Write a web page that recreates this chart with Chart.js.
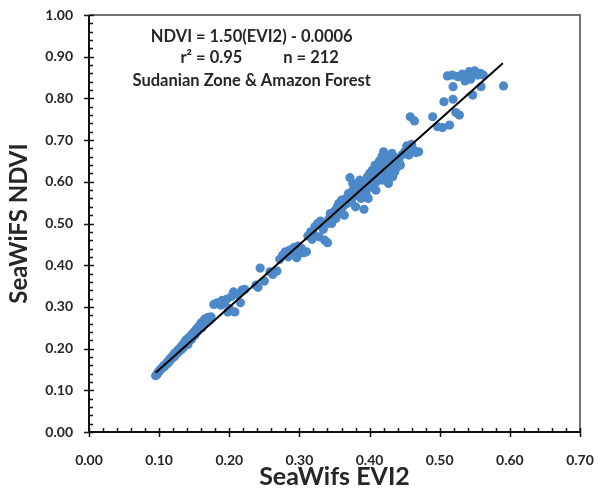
<!DOCTYPE html>
<html>
<head>
<meta charset="utf-8">
<script src="https://cdn.jsdelivr.net/npm/chart.js@4.4.1/dist/chart.umd.min.js"></script>
<style>
  html, body { margin: 0; padding: 0; background: #fff; }
  #wrap { width: 598px; height: 498px; position: relative; }
</style>
</head>
<body>
<div id="wrap"><canvas id="scatterChart"></canvas></div>
<script>
// SeaWiFS EVI2 (x) vs NDVI (y)
const evi2 = [
  0.095, 0.097, 0.098, 0.100, 0.101, 0.102, 0.104, 0.105, 0.106, 0.107,
  0.108, 0.110, 0.111, 0.112, 0.113, 0.114, 0.115, 0.116, 0.117, 0.118,
  0.119, 0.120, 0.121, 0.122, 0.123, 0.124, 0.125, 0.126, 0.127, 0.128,
  0.129, 0.130, 0.131, 0.132, 0.133, 0.134, 0.135, 0.136, 0.137, 0.138,
  0.139, 0.140, 0.141, 0.142, 0.143, 0.145, 0.146, 0.147, 0.148, 0.150,
  0.151, 0.152, 0.154, 0.155, 0.156, 0.158, 0.160, 0.161, 0.163, 0.165,
  0.167, 0.168, 0.170, 0.172, 0.174,
  0.178, 0.183, 0.188, 0.190, 0.193, 0.196, 0.198, 0.200, 0.203, 0.206,
  0.208, 0.212, 0.216, 0.218, 0.222,
  0.238, 0.241, 0.244, 0.250, 0.258, 0.262,
  0.268, 0.272, 0.276, 0.280, 0.284, 0.286, 0.290, 0.292, 0.296, 0.300,
  0.303, 0.306, 0.310, 0.312, 0.316, 0.318, 0.322, 0.326, 0.328, 0.330,
  0.334, 0.336, 0.338, 0.340, 0.342, 0.344,
  0.348, 0.350, 0.352, 0.354, 0.356, 0.358, 0.360, 0.362, 0.364, 0.366,
  0.368, 0.370, 0.372, 0.374, 0.376, 0.378, 0.380, 0.382, 0.384, 0.386,
  0.388, 0.390, 0.392, 0.393, 0.395, 0.397, 0.399, 0.400, 0.402, 0.404,
  0.405, 0.407, 0.408, 0.410, 0.411, 0.413, 0.414, 0.416, 0.417, 0.418,
  0.420, 0.421, 0.422, 0.424, 0.425, 0.426, 0.428, 0.430, 0.431, 0.433,
  0.434, 0.436, 0.438, 0.440, 0.442, 0.446, 0.450, 0.453, 0.456, 0.460,
  0.463, 0.466, 0.470,
  0.458, 0.464, 0.490, 0.497, 0.504, 0.514, 0.506, 0.519, 0.523, 0.528,
  0.519, 0.547, 0.559, 0.591, 0.511, 0.518, 0.526, 0.532, 0.538, 0.542,
  0.546, 0.550, 0.554, 0.558, 0.562, 0.536, 0.544,
  0.398, 0.409, 0.419, 0.427, 0.432, 0.444, 0.298, 0.320, 0.346, 0.376
];
const ndvi = [
  0.135, 0.138, 0.142, 0.145, 0.148, 0.150, 0.152, 0.156, 0.155, 0.160,
  0.158, 0.162, 0.166, 0.164, 0.170, 0.168, 0.172, 0.176, 0.174, 0.180,
  0.178, 0.183, 0.186, 0.181, 0.190, 0.187, 0.192, 0.195, 0.190, 0.198,
  0.196, 0.200, 0.204, 0.198, 0.207, 0.210, 0.203, 0.214, 0.212, 0.220,
  0.216, 0.222, 0.210, 0.226, 0.224, 0.230, 0.222, 0.233, 0.236, 0.240,
  0.232, 0.244, 0.248, 0.242, 0.252, 0.256, 0.262, 0.250, 0.266, 0.270,
  0.272, 0.262, 0.275, 0.268, 0.276,
  0.306, 0.310, 0.304, 0.316, 0.312, 0.318, 0.288, 0.296, 0.325, 0.336,
  0.288, 0.330, 0.310, 0.340, 0.342,
  0.352, 0.347, 0.393, 0.362, 0.384, 0.378,
  0.386, 0.414, 0.424, 0.432, 0.420, 0.436, 0.428, 0.442, 0.418, 0.428,
  0.440, 0.430, 0.432, 0.470, 0.480, 0.462, 0.492, 0.500, 0.468, 0.506,
  0.486, 0.460, 0.498, 0.454, 0.510, 0.524,
  0.520, 0.530, 0.512, 0.540, 0.548, 0.528, 0.556, 0.540, 0.520, 0.560,
  0.548, 0.572, 0.610, 0.554, 0.580, 0.566, 0.540, 0.592, 0.576, 0.604,
  0.560, 0.584, 0.534, 0.598, 0.572, 0.612, 0.590, 0.620, 0.604, 0.628,
  0.586, 0.614, 0.640, 0.600, 0.632, 0.622, 0.650, 0.610, 0.640, 0.662,
  0.672, 0.628, 0.646, 0.656, 0.618, 0.640, 0.660, 0.630, 0.650, 0.612,
  0.642, 0.624, 0.656, 0.636, 0.648, 0.664, 0.672, 0.686, 0.664, 0.690,
  0.676, 0.670, 0.672,
  0.756, 0.746, 0.756, 0.732, 0.730, 0.736, 0.792, 0.798, 0.766, 0.760,
  0.828, 0.808, 0.828, 0.830, 0.854, 0.856, 0.852, 0.858, 0.852, 0.864,
  0.858, 0.866, 0.856, 0.860, 0.856, 0.842, 0.846,
  0.560, 0.580, 0.604, 0.596, 0.668, 0.640, 0.446, 0.474, 0.500, 0.596
];

// regression reported on the figure
const fitSlope = 1.50;
const fitIntercept = -0.0006;
const fitRange = [0.095, 0.59];

const xTicks = [0, 0.1, 0.2, 0.3, 0.4, 0.5, 0.6, 0.7];
const yTicks = [0, 0.1, 0.2, 0.3, 0.4, 0.5, 0.6, 0.7, 0.8, 0.9, 1.0];

const notes = [
  { text: 'NDVI = 1.50(EVI2) - 0.0006', x: 0.232, y: 0.947, align: 'center' },
  { text: 'r\u00B2 = 0.95', x: 0.2186, y: 0.897, align: 'right' },
  { text: 'n = 212', x: 0.277, y: 0.897, align: 'left' },
  { text: 'Sudanian Zone & Amazon Forest', x: 0.232, y: 0.842, align: 'center' }
];

const FONT = 'Lato, "Open Sans", sans-serif';
const TXT = '#262626';

const points = evi2.map((x, i) => ({ x, y: ndvi[i] }));
const fitLine = fitRange.map(x => ({ x, y: fitSlope * x + fitIntercept }));

// frame, crossing major ticks, inner minor ticks, annotation text
const axisDecor = {
  id: 'axisDecor',
  afterDraw(chart) {
    const { ctx, chartArea: a, scales: { x, y } } = chart;
    ctx.save();
    ctx.strokeStyle = '#444';
    ctx.lineWidth = 1.5;
    ctx.beginPath();
    ctx.moveTo(a.left, a.top); ctx.lineTo(a.right, a.top); ctx.lineTo(a.right, a.bottom);
    ctx.stroke();

    ctx.strokeStyle = '#111';
    ctx.lineWidth = 2;
    ctx.beginPath();
    ctx.moveTo(a.left, a.top); ctx.lineTo(a.left, a.bottom); ctx.lineTo(a.right, a.bottom);
    ctx.stroke();

    ctx.lineWidth = 1.5;
    ctx.beginPath();
    for (let k = 0; k <= 35; k++) {
      const px = Math.round(x.getPixelForValue(k * 0.02)) + 0.5;
      if (k % 5 === 0) { ctx.moveTo(px, a.bottom - 4); ctx.lineTo(px, a.bottom + 5); }
      else { ctx.moveTo(px, a.bottom); ctx.lineTo(px, a.bottom - 4); }
    }
    for (let k = 0; k <= 50; k++) {
      const py = Math.round(y.getPixelForValue(k * 0.02)) + 0.5;
      if (k % 5 === 0) { ctx.moveTo(a.left - 5, py); ctx.lineTo(a.left + 5, py); }
      else { ctx.moveTo(a.left, py); ctx.lineTo(a.left + 4, py); }
    }
    ctx.stroke();

    ctx.fillStyle = TXT;
    ctx.font = 'bold 16.5px ' + FONT;
    ctx.textBaseline = 'middle';
    notes.forEach(n => {
      ctx.textAlign = n.align;
      ctx.fillText(n.text, x.getPixelForValue(n.x), y.getPixelForValue(n.y));
    });
    ctx.restore();
  }
};

// keep label overhang from pushing the plot area around
function noOverhang(s) {
  s.paddingLeft = 0; s.paddingRight = 0; s.paddingTop = 0; s.paddingBottom = 0;
}

new Chart(document.getElementById('scatterChart'), {
  type: 'scatter',
  data: {
    datasets: [
      {
        label: 'fit',
        type: 'line',
        data: fitLine,
        borderColor: '#000',
        borderWidth: 2,
        pointRadius: 0,
        fill: false
      },
      {
        label: 'SeaWiFS',
        data: points,
        backgroundColor: '#4D88C8',
        borderColor: '#4D88C8',
        borderWidth: 0,
        pointRadius: 4.6
      }
    ]
  },
  options: {
    responsive: true,
    maintainAspectRatio: false,
    animation: false,
    layout: { padding: { left: 0, top: 15, right: 18, bottom: 0 } },
    plugins: { legend: { display: false }, tooltip: { enabled: false } },
    scales: {
      x: {
        type: 'linear',
        min: 0, max: 0.7,
        afterBuildTicks: s => { s.ticks = xTicks.map(v => ({ value: v })); },
        afterFit: s => { s.height = 66; noOverhang(s); },
        grid: { display: false },
        border: { display: false },
        ticks: {
          padding: 12,
          color: TXT,
          font: { family: FONT, size: 14, weight: 'bold' },
          callback: v => v.toFixed(2),
          maxRotation: 0
        },
        title: {
          display: true,
          text: 'SeaWifs EVI2',
          color: TXT,
          font: { family: FONT, size: 25, weight: 'bold' },
          padding: { top: 0, bottom: 6 }
        }
      },
      y: {
        type: 'linear',
        min: 0, max: 1,
        afterBuildTicks: s => { s.ticks = yTicks.map(v => ({ value: v })); },
        afterFit: s => { s.width = 89; noOverhang(s); },
        grid: { display: false },
        border: { display: false },
        ticks: {
          padding: 8,
          color: TXT,
          font: { family: FONT, size: 14, weight: 'bold' },
          callback: v => v.toFixed(2)
        },
        title: {
          display: true,
          text: 'SeaWiFS NDVI',
          color: TXT,
          font: { family: FONT, size: 24, weight: 'bold' },
          padding: { top: 5, bottom: 0 }
        }
      }
    }
  },
  plugins: [axisDecor]
});
</script>
</body>
</html>
